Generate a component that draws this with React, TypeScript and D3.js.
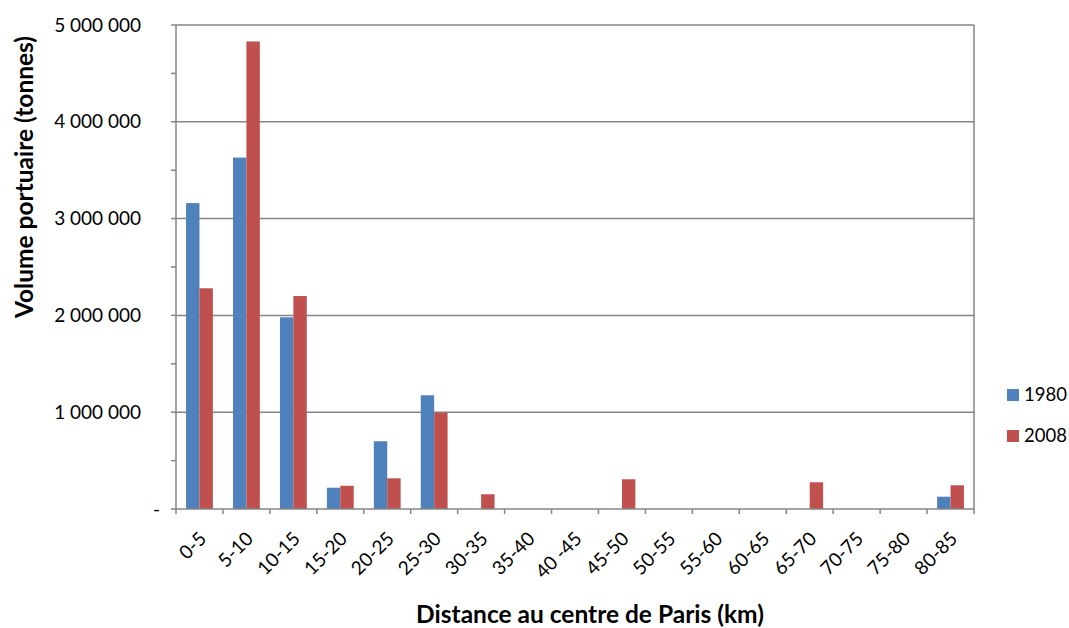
import React from "react";
import * as d3 from "d3";

const categories = ["0-5","5-10","10-15","15-20","20-25","25-30","30-35","35-40","40 -45","45-50","50-55","55-60","60-65","65-70","70-75","75-80","80-85"];
const values1980 = [3160000,3630000,1980000,220000,700000,1175000,0,0,0,0,0,0,0,0,0,0,127000];
const values2008 = [2280000,4830000,2200000,240000,317000,995000,152000,0,0,307000,0,0,0,276000,0,0,245000];
const seriesNames = ["1980","2008"];
const colors = ["#4F81BD","#C0504D"];
const yTicks = [0,1000000,2000000,3000000,4000000,5000000];
const yMinor = [500000,1500000,2500000,3500000,4500000];

const W = 1069, H = 628;
const L = 176, R = 974, T = 25, B = 509;
const FONT = "Lato, 'Open Sans', sans-serif";

export default function App() {
  const x = d3.scaleBand<string>().domain(categories).range([L, R]).paddingInner(0).paddingOuter(0);
  const y = d3.scaleLinear().domain([0, 5000000]).range([B, T]);
  const bw = x.bandwidth();
  const barW = bw / 3.5;
  const fmt = (v: number) => v === 0 ? "-" : d3.format(",")(v).replace(/,/g, " ");
  const series = [values1980, values2008];
  return (
    <svg width={W} height={H} style={{ position: "absolute", left: 0, top: 0, background: "#fff" }} fontFamily={FONT}>
      {yTicks.slice(1).map(t => (
        <line key={"g"+t} x1={L} x2={R} y1={y(t)} y2={y(t)} stroke="#868686" strokeWidth={1.5} />
      ))}
      <line x1={R} x2={R} y1={T} y2={B} stroke="#868686" strokeWidth={1.5} />
      {series.map((vals, si) => vals.map((v, i) => v > 0 ? (
        <rect key={si+"-"+i}
          x={(x(categories[i]) as number) + bw/2 - barW + si*barW}
          y={y(v)} width={barW} height={B - y(v)} fill={colors[si]} />
      ) : null))}
      <line x1={L} x2={L} y1={T} y2={B} stroke="#868686" strokeWidth={1.5} />
      {yTicks.map(t => (
        <g key={"yt"+t}>
          <line x1={L-5} x2={L} y1={y(t)} y2={y(t)} stroke="#868686" strokeWidth={1.5} />
          <text x={t === 0 ? 160 : 141} y={y(t)} dy="0.35em" textAnchor="end" fontSize={19} fill="#000">{fmt(t)}</text>
        </g>
      ))}
      {yMinor.map(t => (
        <line key={"ym"+t} x1={L-5} x2={L} y1={y(t)} y2={y(t)} stroke="#868686" strokeWidth={1.5} />
      ))}
      <line x1={L} x2={R} y1={B} y2={B} stroke="#868686" strokeWidth={1.5} />
      {categories.map((c, i) => (
        <line key={"xt"+i} x1={(x(c) as number)} x2={(x(c) as number)} y1={B} y2={B+5} stroke="#868686" strokeWidth={1.5} />
      ))}
      <line x1={R} x2={R} y1={B} y2={B+5} stroke="#868686" strokeWidth={1.5} />
      {categories.map((c, i) => {
        const cx = (x(c) as number) + bw/2 + 8;
        const cy = 540;
        return (
          <text key={"xl"+i} x={cx} y={cy} transform={`rotate(-45 ${cx} ${cy})`} textAnchor="end" fontSize={19} fill="#000">{c}</text>
        );
      })}
      <text x={590} y={623} textAnchor="middle" fontSize={24.5} fontWeight="bold" fill="#000">Distance au centre de Paris (km)</text>
      <text x={0} y={0} transform={`translate(33 ${177}) rotate(-90)`} textAnchor="middle" fontSize={24.5} fontWeight="bold" fill="#000">Volume portuaire (tonnes)</text>
      {seriesNames.map((s, i) => (
        <g key={"lg"+s}>
          <rect x={1007} y={389 + i*41} width={12} height={12} fill={colors[i]} />
          <text x={1024} y={395 + i*41} dy="0.35em" fontSize={18.5} fill="#000">{s}</text>
        </g>
      ))}
    </svg>
  );
}
